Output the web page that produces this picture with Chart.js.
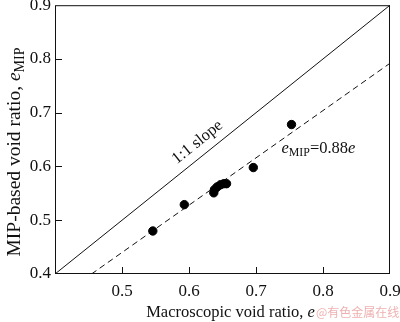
<!DOCTYPE html>
<html>
<head>
<meta charset="utf-8">
<script src="https://cdn.jsdelivr.net/npm/chart.js@4"></script>
<style>
  html, body { margin: 0; padding: 0; background: #fff; }
  #wrap { width: 400px; height: 322px; position: relative; }
</style>
</head>
<body>
<div id="wrap"><canvas id="chart"></canvas></div>
<script>
// measured points
const macroE = [0.546, 0.593, 0.637, 0.638, 0.642, 0.647, 0.652, 0.656, 0.696, 0.753];
const mipE = [0.480, 0.529, 0.551, 0.557, 0.562, 0.566, 0.568, 0.568, 0.598, 0.678];

// reference lines (end points)
const oneToOneX = [0.4, 0.9];
const oneToOneY = [0.4, 0.9];
const fitX = [0.4545, 0.9];
const fitY = [0.4, 0.792];

const tickValues = [0.4, 0.5, 0.6, 0.7, 0.8, 0.9];

const toPts = (xs, ys) => xs.map((x, i) => ({ x: x, y: ys[i] }));

const SERIF = '"Liberation Serif", "Times New Roman", serif';

// draws a run of text pieces: [text, italic, sub]
function drawRich(ctx, parts, x, y, size, align) {
    const widths = parts.map(p => {
        ctx.font = (p[1] ? 'italic ' : '') + (p[2] ? size * 0.72 : size) + 'px ' + SERIF;
        return ctx.measureText(p[0]).width;
    });
    const total = widths.reduce((a, b) => a + b, 0);
    let cx = align === 'center' ? x - total / 2 : x;
    ctx.textAlign = 'left';
    ctx.textBaseline = 'alphabetic';
    parts.forEach((p, i) => {
        ctx.font = (p[1] ? 'italic ' : '') + (p[2] ? size * 0.72 : size) + 'px ' + SERIF;
        ctx.fillText(p[0], cx, y + (p[2] ? size * 0.22 : 0));
        cx += widths[i];
    });
}

const framePlugin = {
    id: 'frame',
    afterDraw(chart) {
        const ctx = chart.ctx;
        const a = chart.chartArea;
        const xs = chart.scales.x, ys = chart.scales.y;
        ctx.save();
        ctx.strokeStyle = '#111';
        ctx.lineWidth = 1;
        ctx.strokeRect(a.left + 0.5, a.top + 0.5, a.right - a.left - 1, a.bottom - a.top - 1);
        // inward ticks
        ctx.beginPath();
        tickValues.slice(1, -1).forEach(v => {
            const px = Math.round(xs.getPixelForValue(v)) + 0.5;
            ctx.moveTo(px, a.bottom);
            ctx.lineTo(px, a.bottom - 7);
            const py = Math.round(ys.getPixelForValue(v)) + 0.5;
            ctx.moveTo(a.left, py);
            ctx.lineTo(a.left + 7, py);
        });
        ctx.stroke();

        ctx.fillStyle = '#111';
        // 1:1 slope label
        const x0 = xs.getPixelForValue(oneToOneX[0]), y0 = ys.getPixelForValue(oneToOneY[0]);
        const x1 = xs.getPixelForValue(oneToOneX[1]), y1 = ys.getPixelForValue(oneToOneY[1]);
        const ang = Math.atan2(y1 - y0, x1 - x0);
        ctx.save();
        ctx.translate(xs.getPixelForValue(0.612), ys.getPixelForValue(0.646));
        ctx.rotate(ang);
        drawRich(ctx, [['1:1 slope', false, false]], 0, 5, 16.5, 'center');
        ctx.restore();

        // fit label
        drawRich(ctx, [['e', true, false], ['MIP', false, true], ['=0.88', false, false], ['e', true, false]],
            xs.getPixelForValue(0.738), ys.getPixelForValue(0.626), 16.5, 'left');

        // axis titles
        drawRich(ctx, [['Macroscopic void ratio, ', false, false], ['e', true, false]],
            (a.left + a.right) / 2 + 8, 317, 16.5, 'center');
        ctx.save();
        ctx.translate(20, 152);
        ctx.rotate(-Math.PI / 2);
        drawRich(ctx, [['MIP-based void ratio, ', false, false], ['e', true, false], ['MIP', false, true]],
            0, 0, 19.5, 'center');
        ctx.restore();

        // watermark
        ctx.fillStyle = 'rgba(232, 150, 150, 0.75)';
        ctx.font = '12px "Noto Sans CJK SC", sans-serif';
        ctx.textAlign = 'left';
        ctx.fillText('@有色金属在线', 316, 317);
        ctx.restore();
    }
};

new Chart(document.getElementById('chart'), {
    type: 'scatter',
    data: {
        datasets: [
            {
                label: 'data',
                data: toPts(macroE, mipE),
                backgroundColor: '#000',
                borderColor: '#000',
                pointRadius: 4.2,
                pointHoverRadius: 4.2,
            },
            {
                label: '1:1',
                data: toPts(oneToOneX, oneToOneY),
                showLine: true,
                borderColor: '#111',
                borderWidth: 1,
                pointRadius: 0,
            },
            {
                label: 'fit',
                data: toPts(fitX, fitY),
                showLine: true,
                borderColor: '#111',
                borderWidth: 1,
                borderDash: [6, 4],
                pointRadius: 0,
            },
        ],
    },
    options: {
        animation: false,
        responsive: true,
        maintainAspectRatio: false,
        layout: { padding: { left: 0, right: 10, top: 4, bottom: 0 } },
        plugins: {
            legend: { display: false },
            tooltip: { enabled: false },
        },
        scales: {
            x: {
                type: 'linear',
                min: 0.4,
                max: 0.9,
                afterFit: (s) => { s.height = 48; s.paddingLeft = 0; s.paddingRight = 0; },
                afterBuildTicks: (s) => { s.ticks = tickValues.slice(1).map(v => ({ value: v })); },
                grid: { display: false, drawTicks: false },
                border: { display: false },
                ticks: {
                    color: '#111',
                    padding: 7,
                    font: { family: SERIF, size: 17 },
                    callback: (v) => v.toFixed(1),
                },
            },
            y: {
                type: 'linear',
                min: 0.4,
                max: 0.9,
                afterFit: (s) => { s.width = 55; s.paddingTop = 0; s.paddingBottom = 0; },
                afterBuildTicks: (s) => { s.ticks = tickValues.map(v => ({ value: v })); },
                grid: { display: false, drawTicks: false },
                border: { display: false },
                ticks: {
                    color: '#111',
                    padding: 4,
                    font: { family: SERIF, size: 17 },
                    callback: (v) => v.toFixed(1),
                },
            },
        },
    },
    plugins: [framePlugin],
});
</script>
</body>
</html>
